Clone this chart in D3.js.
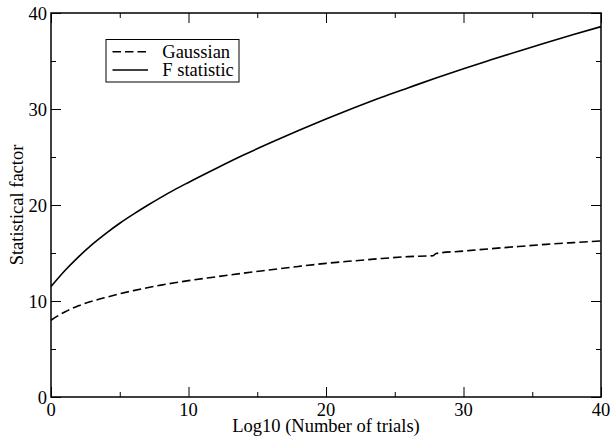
<!DOCTYPE html>
<html>
<head>
<meta charset="utf-8">
<script src="https://cdn.jsdelivr.net/npm/d3@7"></script>
<style>
  html, body { margin: 0; padding: 0; background: #fff; }
  svg { display: block; }
</style>
</head>
<body>
<svg id="chart" width="613" height="439"></svg>
<script>
// ---- data ----
const xGauss = [0, 1, 2, 3, 4, 5, 6, 7, 8, 9, 10, 12, 14, 16, 18, 20, 22, 24, 26, 27.8, 28, 30, 32, 34, 36, 38, 40];
const gaussian = [8.0, 8.85, 9.5, 9.98, 10.38, 10.75, 11.08, 11.38, 11.65, 11.9, 12.12, 12.52, 12.9, 13.25, 13.6, 13.92, 14.18, 14.42, 14.62, 14.72, 14.95, 15.2, 15.45, 15.68, 15.9, 16.08, 16.25];
const xF = [0, 1, 2, 3, 4, 5, 6, 7, 8, 9, 10, 12, 14, 16, 18, 20, 22, 24, 26, 28, 30, 32, 34, 36, 38, 40];
const fStatistic = [11.5, 13.15, 14.6, 15.9, 17.05, 18.1, 19.05, 19.95, 20.8, 21.6, 22.35, 23.8, 25.2, 26.5, 27.75, 28.95, 30.1, 31.2, 32.22, 33.23, 34.2, 35.12, 36.02, 36.9, 37.75, 38.58];
const seriesNames = ["Gaussian", "F statistic"];
const xMajorTicks = [0, 10, 20, 30, 40];
const xMinorTicks = [5, 15, 25, 35];
const yMajorTicks = [0, 10, 20, 30, 40];
const yMinorTicks = [5, 15, 25, 35];
const xTitle = "Log10 (Number of trials)";
const yTitle = "Statistical factor";

// ---- layout ----
const FONT = "'Liberation Serif', Tinos, 'Times New Roman', Times, 'DejaVu Serif', serif";
const svg = d3.select("#chart");
const L = 51, R = 601, T = 13, B = 397;
const x = d3.scaleLinear().domain([0, 40]).range([L, R]);
const y = d3.scaleLinear().domain([0, 40]).range([B, T]);

const fontSize = 18.5;

// ticks (inward, all four sides)
function tickAxis(axisGen, transform, vals, size) {
  const g = svg.append("g").attr("transform", transform)
    .call(axisGen.tickValues(vals).tickSize(size).tickFormat(""));
  g.select(".domain").remove();
  g.selectAll("line").attr("stroke", "#000").attr("stroke-width", 1);
  return g;
}
tickAxis(d3.axisTop(x), `translate(0,${B})`, xMajorTicks, 10);
tickAxis(d3.axisTop(x), `translate(0,${B})`, xMinorTicks, 5);
tickAxis(d3.axisBottom(x), `translate(0,${T})`, xMajorTicks, 10);
tickAxis(d3.axisBottom(x), `translate(0,${T})`, xMinorTicks, 5);
tickAxis(d3.axisRight(y), `translate(${L},0)`, yMajorTicks, 10);
tickAxis(d3.axisRight(y), `translate(${L},0)`, yMinorTicks, 5);
tickAxis(d3.axisLeft(y), `translate(${R},0)`, yMajorTicks, 10);
tickAxis(d3.axisLeft(y), `translate(${R},0)`, yMinorTicks, 5);

// frame
svg.append("rect").attr("x", L).attr("y", T).attr("width", R - L).attr("height", B - T)
  .attr("fill", "none").attr("stroke", "#000").attr("stroke-width", 1.5);

// tick labels
svg.append("g").selectAll("text").data(xMajorTicks).join("text")
  .attr("x", d => x(d)).attr("y", B + 18.5)
  .attr("text-anchor", "middle").attr("font-family", FONT).attr("font-size", fontSize).text(d => d);
svg.append("g").selectAll("text").data(yMajorTicks).join("text")
  .attr("x", L - 4).attr("y", d => y(d) + 6.5)
  .attr("text-anchor", "end").attr("font-family", FONT).attr("font-size", fontSize).text(d => d);

// axis titles
svg.append("text").attr("x", (L + R) / 2).attr("y", 432)
  .attr("text-anchor", "middle").attr("font-family", FONT).attr("font-size", fontSize).text(xTitle);
svg.append("text").attr("transform", `translate(23,${(T + B) / 2}) rotate(-90)`)
  .attr("text-anchor", "middle").attr("font-family", FONT).attr("font-size", fontSize).text(yTitle);

// lines
const line = d3.line().x(d => x(d[0])).y(d => y(d[1])).curve(d3.curveMonotoneX);
svg.append("path").datum(d3.zip(xGauss, gaussian)).attr("d", line)
  .attr("fill", "none").attr("stroke", "#000").attr("stroke-width", 1.6)
  .attr("stroke-dasharray", "8.5,4");
svg.append("path").datum(d3.zip(xF, fStatistic)).attr("d", line)
  .attr("fill", "none").attr("stroke", "#000").attr("stroke-width", 1.6);

// legend
const lg = svg.append("g");
lg.append("rect").attr("x", 106).attr("y", 39.5).attr("width", 133).attr("height", 42.5)
  .attr("fill", "#fff").attr("stroke", "#000").attr("stroke-width", 1);
const dashes = ["8.5,4", null];
seriesNames.forEach((name, i) => {
  const yy = 51.7 + i * 18.3;
  const ln = lg.append("line").attr("x1", 112.5).attr("x2", 148).attr("y1", yy).attr("y2", yy)
    .attr("stroke", "#000").attr("stroke-width", 1.6);
  if (dashes[i]) ln.attr("stroke-dasharray", dashes[i]);
  lg.append("text").attr("x", 162.3).attr("y", yy + 6).attr("font-family", FONT)
    .attr("font-size", fontSize).text(name);
});
</script>
</body>
</html>
